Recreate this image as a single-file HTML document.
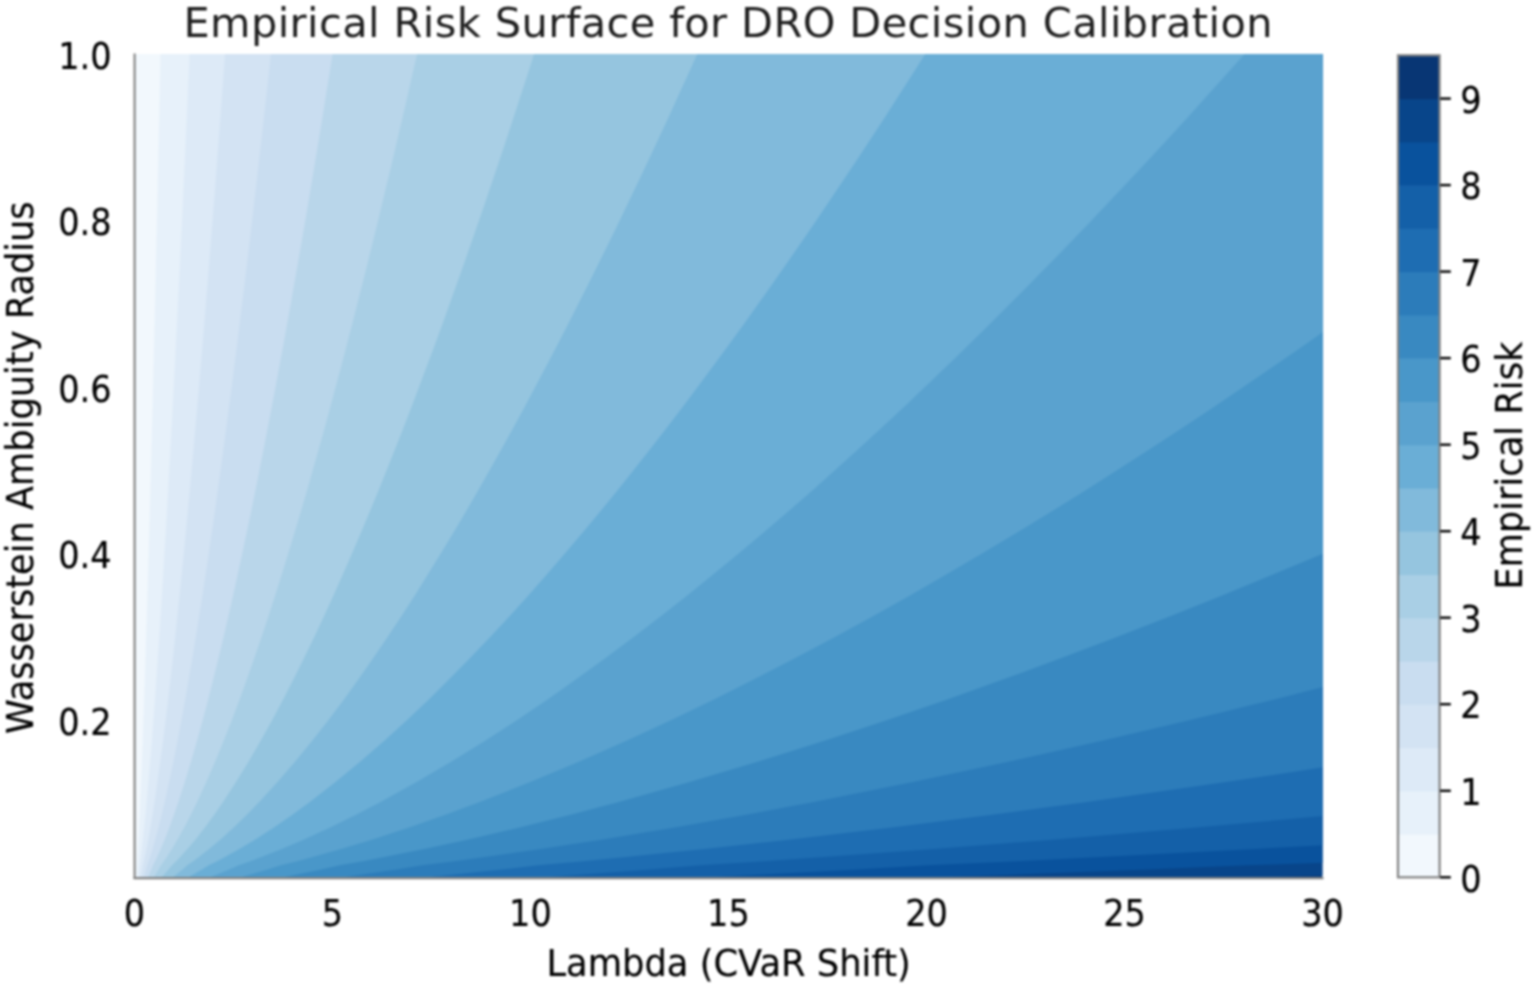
<!DOCTYPE html>
<html lang="en"><head><meta charset="utf-8"><title>Empirical Risk Surface for DRO Decision Calibration</title>
<style>
html,body{margin:0;padding:0;background:#fff;}
body{width:1534px;height:985px;overflow:hidden;}
svg{display:block;}
#fig{width:1534px;height:985px;filter:blur(1px);}
svg text{font-family:"DejaVu Sans","Liberation Sans",sans-serif;stroke:#000;stroke-width:0.15px;}
svg text.ttl{stroke:none;}
</style></head><body>
<div id="fig">
<svg width="1534" height="985" viewBox="0 0 1534 985">
<rect width="1534" height="985" fill="#ffffff"/>
<defs><clipPath id="pc"><rect x="134.4" y="54.0" width="1188.1" height="823.8"/></clipPath></defs>
<g clip-path="url(#pc)" shape-rendering="geometricPrecision">
<rect x="134.4" y="54.0" width="1188.1" height="823.8" fill="#083674"/>
<polygon points="129.4,882.8 1249.9,882.8 1249.9,877.8 1406.6,873.6 1554.3,869.5 1694.6,865.3 1718.5,861.2 1718.5,857.0 1718.5,852.8 1718.5,848.7 1718.5,844.5 1718.5,840.4 1718.5,836.2 1718.5,832.0 1718.5,827.9 1718.5,823.7 1718.5,819.6 1718.5,815.4 1718.5,811.2 1718.5,807.1 1718.5,802.9 1718.5,782.1 1718.5,761.3 1718.5,740.5 1718.5,719.7 1718.5,698.9 1718.5,678.1 1718.5,657.3 1718.5,636.5 1718.5,615.7 1718.5,594.9 1718.5,574.1 1718.5,553.3 1718.5,532.5 1718.5,511.7 1718.5,490.9 1718.5,470.1 1718.5,449.3 1718.5,428.5 1718.5,407.7 1718.5,386.8 1718.5,366.0 1718.5,345.2 1718.5,324.4 1718.5,303.6 1718.5,282.8 1718.5,262.0 1718.5,241.2 1718.5,220.4 1718.5,199.6 1718.5,178.8 1718.5,158.0 1718.5,137.2 1718.5,116.4 1718.5,95.6 1718.5,74.8 1718.5,54.0 1718.5,49.0 129.4,49.0" fill="#08458a"/>
<polygon points="129.4,882.8 930.0,882.8 930.0,877.8 1041.8,873.6 1147.1,869.5 1247.2,865.3 1371.5,861.2 1489.8,857.0 1603.1,852.8 1712.3,848.7 1718.5,844.5 1718.5,840.4 1718.5,836.2 1718.5,832.0 1718.5,827.9 1718.5,823.7 1718.5,819.6 1718.5,815.4 1718.5,811.2 1718.5,807.1 1718.5,802.9 1718.5,782.1 1718.5,761.3 1718.5,740.5 1718.5,719.7 1718.5,698.9 1718.5,678.1 1718.5,657.3 1718.5,636.5 1718.5,615.7 1718.5,594.9 1718.5,574.1 1718.5,553.3 1718.5,532.5 1718.5,511.7 1718.5,490.9 1718.5,470.1 1718.5,449.3 1718.5,428.5 1718.5,407.7 1718.5,386.8 1718.5,366.0 1718.5,345.2 1718.5,324.4 1718.5,303.6 1718.5,282.8 1718.5,262.0 1718.5,241.2 1718.5,220.4 1718.5,199.6 1718.5,178.8 1718.5,158.0 1718.5,137.2 1718.5,116.4 1718.5,95.6 1718.5,74.8 1718.5,54.0 1718.5,49.0 129.4,49.0" fill="#09529d"/>
<polygon points="129.4,882.8 701.9,882.8 701.9,877.8 781.6,873.6 856.7,869.5 928.1,865.3 1016.7,861.2 1101.1,857.0 1182.0,852.8 1259.8,848.7 1335.1,844.5 1408.1,840.4 1479.0,836.2 1548.2,832.0 1615.7,827.9 1681.7,823.7 1718.5,819.6 1718.5,815.4 1718.5,811.2 1718.5,807.1 1718.5,802.9 1718.5,782.1 1718.5,761.3 1718.5,740.5 1718.5,719.7 1718.5,698.9 1718.5,678.1 1718.5,657.3 1718.5,636.5 1718.5,615.7 1718.5,594.9 1718.5,574.1 1718.5,553.3 1718.5,532.5 1718.5,511.7 1718.5,490.9 1718.5,470.1 1718.5,449.3 1718.5,428.5 1718.5,407.7 1718.5,386.8 1718.5,366.0 1718.5,345.2 1718.5,324.4 1718.5,303.6 1718.5,282.8 1718.5,262.0 1718.5,241.2 1718.5,220.4 1718.5,199.6 1718.5,178.8 1718.5,158.0 1718.5,137.2 1718.5,116.4 1718.5,95.6 1718.5,74.8 1718.5,54.0 1718.5,49.0 129.4,49.0" fill="#1460a8"/>
<polygon points="129.4,882.8 539.1,882.8 539.1,877.8 596.0,873.6 649.6,869.5 700.5,865.3 763.7,861.2 823.9,857.0 881.6,852.8 937.1,848.7 990.8,844.5 1042.8,840.4 1093.4,836.2 1142.8,832.0 1190.9,827.9 1238.0,823.7 1284.1,819.6 1329.3,815.4 1373.6,811.2 1417.2,807.1 1460.1,802.9 1664.9,782.1 1718.5,761.3 1718.5,740.5 1718.5,719.7 1718.5,698.9 1718.5,678.1 1718.5,657.3 1718.5,636.5 1718.5,615.7 1718.5,594.9 1718.5,574.1 1718.5,553.3 1718.5,532.5 1718.5,511.7 1718.5,490.9 1718.5,470.1 1718.5,449.3 1718.5,428.5 1718.5,407.7 1718.5,386.8 1718.5,366.0 1718.5,345.2 1718.5,324.4 1718.5,303.6 1718.5,282.8 1718.5,262.0 1718.5,241.2 1718.5,220.4 1718.5,199.6 1718.5,178.8 1718.5,158.0 1718.5,137.2 1718.5,116.4 1718.5,95.6 1718.5,74.8 1718.5,54.0 1718.5,49.0 129.4,49.0" fill="#1e6db2"/>
<polygon points="129.4,882.8 423.1,882.8 423.1,877.8 463.6,873.6 501.8,869.5 538.2,865.3 583.2,861.2 626.2,857.0 667.3,852.8 706.9,848.7 745.2,844.5 782.3,840.4 818.4,836.2 853.6,832.0 887.9,827.9 921.5,823.7 954.4,819.6 986.6,815.4 1018.3,811.2 1049.3,807.1 1079.9,802.9 1226.0,782.1 1363.0,761.3 1492.7,740.5 1616.5,719.7 1718.5,698.9 1718.5,678.1 1718.5,657.3 1718.5,636.5 1718.5,615.7 1718.5,594.9 1718.5,574.1 1718.5,553.3 1718.5,532.5 1718.5,511.7 1718.5,490.9 1718.5,470.1 1718.5,449.3 1718.5,428.5 1718.5,407.7 1718.5,386.8 1718.5,366.0 1718.5,345.2 1718.5,324.4 1718.5,303.6 1718.5,282.8 1718.5,262.0 1718.5,241.2 1718.5,220.4 1718.5,199.6 1718.5,178.8 1718.5,158.0 1718.5,137.2 1718.5,116.4 1718.5,95.6 1718.5,74.8 1718.5,54.0 1718.5,49.0 129.4,49.0" fill="#2c7cba"/>
<polygon points="129.4,882.8 340.3,882.8 340.3,877.8 369.2,873.6 396.5,869.5 422.4,865.3 454.5,861.2 485.1,857.0 514.5,852.8 542.7,848.7 570.0,844.5 596.5,840.4 622.2,836.2 647.3,832.0 671.8,827.9 695.8,823.7 719.2,819.6 742.2,815.4 764.8,811.2 786.9,807.1 808.7,802.9 912.9,782.1 1010.6,761.3 1103.1,740.5 1191.4,719.7 1276.2,698.9 1358.0,678.1 1437.1,657.3 1513.9,636.5 1588.6,615.7 1661.5,594.9 1718.5,574.1 1718.5,553.3 1718.5,532.5 1718.5,511.7 1718.5,490.9 1718.5,470.1 1718.5,449.3 1718.5,428.5 1718.5,407.7 1718.5,386.8 1718.5,366.0 1718.5,345.2 1718.5,324.4 1718.5,303.6 1718.5,282.8 1718.5,262.0 1718.5,241.2 1718.5,220.4 1718.5,199.6 1718.5,178.8 1718.5,158.0 1718.5,137.2 1718.5,116.4 1718.5,95.6 1718.5,74.8 1718.5,54.0 1718.5,49.0 129.4,49.0" fill="#3989c1"/>
<polygon points="129.4,882.8 281.2,882.8 281.2,877.8 301.9,873.6 321.3,869.5 339.8,865.3 362.7,861.2 384.5,857.0 405.4,852.8 425.6,848.7 445.1,844.5 463.9,840.4 482.3,836.2 500.2,832.0 517.7,827.9 534.7,823.7 551.5,819.6 567.9,815.4 583.9,811.2 599.8,807.1 615.3,802.9 689.6,782.1 759.3,761.3 825.2,740.5 888.2,719.7 948.7,698.9 1007.0,678.1 1063.4,657.3 1118.2,636.5 1171.5,615.7 1223.4,594.9 1274.2,574.1 1323.8,553.3 1372.5,532.5 1420.2,511.7 1467.0,490.9 1513.1,470.1 1558.3,449.3 1602.9,428.5 1646.8,407.7 1690.1,386.8 1718.5,366.0 1718.5,345.2 1718.5,324.4 1718.5,303.6 1718.5,282.8 1718.5,262.0 1718.5,241.2 1718.5,220.4 1718.5,199.6 1718.5,178.8 1718.5,158.0 1718.5,137.2 1718.5,116.4 1718.5,95.6 1718.5,74.8 1718.5,54.0 1718.5,49.0 129.4,49.0" fill="#4997c9"/>
<polygon points="129.4,882.8 239.1,882.8 239.1,877.8 253.8,873.6 267.7,869.5 280.8,865.3 297.2,861.2 312.7,857.0 327.7,852.8 342.0,848.7 355.9,844.5 369.4,840.4 382.5,836.2 395.2,832.0 407.7,827.9 419.9,823.7 431.8,819.6 443.5,815.4 454.9,811.2 466.2,807.1 477.3,802.9 530.3,782.1 580.0,761.3 627.0,740.5 671.9,719.7 715.0,698.9 756.6,678.1 796.8,657.3 835.9,636.5 873.9,615.7 910.9,594.9 947.1,574.1 982.5,553.3 1017.2,532.5 1051.2,511.7 1084.6,490.9 1117.4,470.1 1149.7,449.3 1181.5,428.5 1212.8,407.7 1243.7,386.8 1274.1,366.0 1304.2,345.2 1333.9,324.4 1363.2,303.6 1392.1,282.8 1420.8,262.0 1449.1,241.2 1477.1,220.4 1504.8,199.6 1532.3,178.8 1559.5,158.0 1586.4,137.2 1613.1,116.4 1639.5,95.6 1665.8,74.8 1691.8,54.0 1691.8,49.0 129.4,49.0" fill="#5aa2cf"/>
<polygon points="129.4,882.8 209.0,882.8 209.0,877.8 219.5,873.6 229.4,869.5 238.8,865.3 250.4,861.2 261.5,857.0 272.2,852.8 282.4,848.7 292.3,844.5 301.9,840.4 311.2,836.2 320.3,832.0 329.2,827.9 337.9,823.7 346.4,819.6 354.7,815.4 362.9,811.2 370.9,807.1 378.8,802.9 416.6,782.1 452.0,761.3 485.6,740.5 517.6,719.7 548.3,698.9 577.9,678.1 606.6,657.3 634.4,636.5 661.5,615.7 687.9,594.9 713.7,574.1 739.0,553.3 763.7,532.5 787.9,511.7 811.8,490.9 835.2,470.1 858.2,449.3 880.8,428.5 903.2,407.7 925.2,386.8 946.9,366.0 968.3,345.2 989.4,324.4 1010.3,303.6 1031.0,282.8 1051.4,262.0 1071.6,241.2 1091.5,220.4 1111.3,199.6 1130.9,178.8 1150.3,158.0 1169.5,137.2 1188.5,116.4 1207.3,95.6 1226.0,74.8 1244.6,54.0 1244.6,49.0 129.4,49.0" fill="#6aaed6"/>
<polygon points="129.4,882.8 187.6,882.8 187.6,877.8 195.0,873.6 202.1,869.5 208.8,865.3 217.1,861.2 225.0,857.0 232.6,852.8 239.8,848.7 246.9,844.5 253.7,840.4 260.4,836.2 266.9,832.0 273.2,827.9 279.4,823.7 285.4,819.6 291.4,815.4 297.2,811.2 302.9,807.1 308.6,802.9 335.5,782.1 360.7,761.3 384.6,740.5 407.4,719.7 429.3,698.9 450.4,678.1 470.8,657.3 490.7,636.5 510.0,615.7 528.8,594.9 547.2,574.1 565.1,553.3 582.7,532.5 600.0,511.7 617.0,490.9 633.7,470.1 650.1,449.3 666.2,428.5 682.1,407.7 697.8,386.8 713.2,366.0 728.5,345.2 743.6,324.4 758.5,303.6 773.2,282.8 787.7,262.0 802.1,241.2 816.3,220.4 830.4,199.6 844.3,178.8 858.2,158.0 871.8,137.2 885.4,116.4 898.8,95.6 912.1,74.8 925.3,54.0 925.3,49.0 129.4,49.0" fill="#81badb"/>
<polygon points="129.4,882.8 172.2,882.8 172.2,877.8 177.6,873.6 182.6,869.5 187.3,865.3 193.2,861.2 198.9,857.0 204.3,852.8 209.4,848.7 214.5,844.5 219.3,840.4 224.1,836.2 228.7,832.0 233.2,827.9 237.6,823.7 241.9,819.6 246.1,815.4 250.3,811.2 254.3,807.1 258.3,802.9 277.5,782.1 295.4,761.3 312.4,740.5 328.7,719.7 344.3,698.9 359.3,678.1 373.8,657.3 387.9,636.5 401.7,615.7 415.1,594.9 428.1,574.1 440.9,553.3 453.5,532.5 465.8,511.7 477.8,490.9 489.7,470.1 501.4,449.3 512.9,428.5 524.2,407.7 535.3,386.8 546.3,366.0 557.2,345.2 567.9,324.4 578.5,303.6 589.0,282.8 599.3,262.0 609.6,241.2 619.7,220.4 629.7,199.6 639.7,178.8 649.5,158.0 659.2,137.2 668.9,116.4 678.4,95.6 687.9,74.8 697.3,54.0 697.3,49.0 129.4,49.0" fill="#95c5df"/>
<polygon points="129.4,882.8 161.3,882.8 161.3,877.8 165.0,873.6 168.6,869.5 172.0,865.3 176.2,861.2 180.2,857.0 184.0,852.8 187.7,848.7 191.3,844.5 194.7,840.4 198.1,836.2 201.3,832.0 204.5,827.9 207.7,823.7 210.7,819.6 213.7,815.4 216.7,811.2 219.6,807.1 222.4,802.9 236.0,782.1 248.8,761.3 260.8,740.5 272.4,719.7 283.4,698.9 294.1,678.1 304.4,657.3 314.5,636.5 324.2,615.7 333.7,594.9 343.0,574.1 352.1,553.3 361.0,532.5 369.7,511.7 378.3,490.9 386.7,470.1 395.0,449.3 403.2,428.5 411.2,407.7 419.1,386.8 426.9,366.0 434.7,345.2 442.3,324.4 449.8,303.6 457.2,282.8 464.6,262.0 471.8,241.2 479.0,220.4 486.2,199.6 493.2,178.8 500.2,158.0 507.1,137.2 513.9,116.4 520.7,95.6 527.5,74.8 534.1,54.0 534.1,49.0 129.4,49.0" fill="#a9cfe5"/>
<polygon points="129.4,882.8 153.4,882.8 153.4,877.8 156.1,873.6 158.6,869.5 161.0,865.3 163.9,861.2 166.8,857.0 169.5,852.8 172.1,848.7 174.6,844.5 177.0,840.4 179.4,836.2 181.7,832.0 184.0,827.9 186.2,823.7 188.4,819.6 190.5,815.4 192.6,811.2 194.6,807.1 196.6,802.9 206.3,782.1 215.3,761.3 223.8,740.5 232.0,719.7 239.8,698.9 247.3,678.1 254.6,657.3 261.7,636.5 268.6,615.7 275.3,594.9 281.9,574.1 288.3,553.3 294.6,532.5 300.8,511.7 306.9,490.9 312.8,470.1 318.7,449.3 324.5,428.5 330.1,407.7 335.7,386.8 341.3,366.0 346.7,345.2 352.1,324.4 357.4,303.6 362.7,282.8 367.9,262.0 373.0,241.2 378.1,220.4 383.1,199.6 388.1,178.8 393.1,158.0 397.9,137.2 402.8,116.4 407.6,95.6 412.3,74.8 417.1,54.0 417.1,49.0 129.4,49.0" fill="#b9d6ea"/>
<polygon points="129.4,882.8 147.7,882.8 147.7,877.8 149.6,873.6 151.4,869.5 153.0,865.3 155.1,861.2 157.1,857.0 159.0,852.8 160.8,848.7 162.6,844.5 164.3,840.4 166.0,836.2 167.6,832.0 169.2,827.9 170.7,823.7 172.2,819.6 173.7,815.4 175.2,811.2 176.6,807.1 178.0,802.9 184.8,782.1 191.1,761.3 197.1,740.5 202.8,719.7 208.3,698.9 213.6,678.1 218.7,657.3 223.7,636.5 228.5,615.7 233.2,594.9 237.8,574.1 242.3,553.3 246.7,532.5 251.1,511.7 255.3,490.9 259.5,470.1 263.6,449.3 267.6,428.5 271.6,407.7 275.6,386.8 279.4,366.0 283.3,345.2 287.0,324.4 290.8,303.6 294.4,282.8 298.1,262.0 301.7,241.2 305.3,220.4 308.8,199.6 312.3,178.8 315.7,158.0 319.2,137.2 322.6,116.4 325.9,95.6 329.3,74.8 332.6,54.0 332.6,49.0 129.4,49.0" fill="#c9ddf0"/>
<polygon points="129.4,882.8 143.6,882.8 143.6,877.8 144.9,873.6 146.1,869.5 147.2,865.3 148.7,861.2 150.0,857.0 151.3,852.8 152.6,848.7 153.8,844.5 155.0,840.4 156.1,836.2 157.3,832.0 158.4,827.9 159.4,823.7 160.5,819.6 161.5,815.4 162.5,811.2 163.5,807.1 164.5,802.9 169.1,782.1 173.5,761.3 177.6,740.5 181.5,719.7 185.3,698.9 188.9,678.1 192.5,657.3 195.9,636.5 199.2,615.7 202.5,594.9 205.7,574.1 208.8,553.3 211.8,532.5 214.8,511.7 217.7,490.9 220.6,470.1 223.4,449.3 226.2,428.5 228.9,407.7 231.7,386.8 234.3,366.0 237.0,345.2 239.6,324.4 242.1,303.6 244.7,282.8 247.2,262.0 249.7,241.2 252.1,220.4 254.5,199.6 257.0,178.8 259.3,158.0 261.7,137.2 264.0,116.4 266.4,95.6 268.7,74.8 270.9,54.0 270.9,49.0 129.4,49.0" fill="#d3e3f3"/>
<polygon points="129.4,882.8 140.5,882.8 140.5,877.8 141.3,873.6 142.2,869.5 142.9,865.3 143.9,861.2 144.8,857.0 145.6,852.8 146.5,848.7 147.3,844.5 148.1,840.4 148.8,836.2 149.6,832.0 150.3,827.9 151.0,823.7 151.7,819.6 152.4,815.4 153.1,811.2 153.7,807.1 154.4,802.9 157.4,782.1 160.3,761.3 163.1,740.5 165.7,719.7 168.2,698.9 170.6,678.1 173.0,657.3 175.2,636.5 177.4,615.7 179.6,594.9 181.7,574.1 183.8,553.3 185.8,532.5 187.8,511.7 189.7,490.9 191.6,470.1 193.5,449.3 195.3,428.5 197.2,407.7 199.0,386.8 200.7,366.0 202.5,345.2 204.2,324.4 205.9,303.6 207.6,282.8 209.3,262.0 210.9,241.2 212.5,220.4 214.2,199.6 215.8,178.8 217.3,158.0 218.9,137.2 220.5,116.4 222.0,95.6 223.5,74.8 225.0,54.0 225.0,49.0 129.4,49.0" fill="#ddeaf7"/>
<polygon points="129.4,882.8 138.1,882.8 138.1,877.8 138.6,873.6 139.1,869.5 139.6,865.3 140.2,861.2 140.7,857.0 141.2,852.8 141.8,848.7 142.2,844.5 142.7,840.4 143.2,836.2 143.6,832.0 144.1,827.9 144.5,823.7 144.9,819.6 145.4,815.4 145.8,811.2 146.2,807.1 146.5,802.9 148.4,782.1 150.2,761.3 151.9,740.5 153.4,719.7 155.0,698.9 156.4,678.1 157.9,657.3 159.3,636.5 160.6,615.7 161.9,594.9 163.2,574.1 164.4,553.3 165.7,532.5 166.9,511.7 168.1,490.9 169.2,470.1 170.4,449.3 171.5,428.5 172.6,407.7 173.7,386.8 174.8,366.0 175.8,345.2 176.9,324.4 177.9,303.6 179.0,282.8 180.0,262.0 181.0,241.2 182.0,220.4 183.0,199.6 183.9,178.8 184.9,158.0 185.8,137.2 186.8,116.4 187.7,95.6 188.7,74.8 189.6,54.0 189.6,49.0 129.4,49.0" fill="#e7f1fa"/>
<polygon points="129.4,882.8 136.2,882.8 136.2,877.8 136.4,873.6 136.6,869.5 136.9,865.3 137.1,861.2 137.4,857.0 137.6,852.8 137.9,848.7 138.1,844.5 138.3,840.4 138.6,836.2 138.8,832.0 139.0,827.9 139.2,823.7 139.4,819.6 139.6,815.4 139.8,811.2 140.0,807.1 140.1,802.9 141.0,782.1 141.9,761.3 142.7,740.5 143.4,719.7 144.1,698.9 144.8,678.1 145.5,657.3 146.1,636.5 146.8,615.7 147.4,594.9 148.0,574.1 148.6,553.3 149.2,532.5 149.8,511.7 150.3,490.9 150.9,470.1 151.4,449.3 151.9,428.5 152.5,407.7 153.0,386.8 153.5,366.0 154.0,345.2 154.5,324.4 155.0,303.6 155.5,282.8 155.9,262.0 156.4,241.2 156.9,220.4 157.4,199.6 157.8,178.8 158.3,158.0 158.7,137.2 159.2,116.4 159.6,95.6 160.1,74.8 160.5,54.0 160.5,49.0 129.4,49.0" fill="#f2f8fd"/>
</g>
<path d="M134.6,53.5 V879.0999999999999" stroke="#828282" stroke-width="2.1" fill="none"/>
<path d="M133.5,878.0999999999999 H1323.5" stroke="#828282" stroke-width="2.1" fill="none"/>
<rect x="1398.0" y="834.04" width="41.6" height="43.86" fill="#f2f8fd"/>
<rect x="1398.0" y="790.77" width="41.6" height="43.86" fill="#e7f1fa"/>
<rect x="1398.0" y="747.51" width="41.6" height="43.86" fill="#ddeaf7"/>
<rect x="1398.0" y="704.25" width="41.6" height="43.86" fill="#d3e3f3"/>
<rect x="1398.0" y="660.98" width="41.6" height="43.86" fill="#c9ddf0"/>
<rect x="1398.0" y="617.72" width="41.6" height="43.86" fill="#b9d6ea"/>
<rect x="1398.0" y="574.46" width="41.6" height="43.86" fill="#a9cfe5"/>
<rect x="1398.0" y="531.19" width="41.6" height="43.86" fill="#95c5df"/>
<rect x="1398.0" y="487.93" width="41.6" height="43.86" fill="#81badb"/>
<rect x="1398.0" y="444.67" width="41.6" height="43.86" fill="#6aaed6"/>
<rect x="1398.0" y="401.41" width="41.6" height="43.86" fill="#5aa2cf"/>
<rect x="1398.0" y="358.14" width="41.6" height="43.86" fill="#4997c9"/>
<rect x="1398.0" y="314.88" width="41.6" height="43.86" fill="#3989c1"/>
<rect x="1398.0" y="271.62" width="41.6" height="43.86" fill="#2c7cba"/>
<rect x="1398.0" y="228.35" width="41.6" height="43.86" fill="#1e6db2"/>
<rect x="1398.0" y="185.09" width="41.6" height="43.86" fill="#1460a8"/>
<rect x="1398.0" y="141.83" width="41.6" height="43.86" fill="#09529d"/>
<rect x="1398.0" y="98.56" width="41.6" height="43.86" fill="#08458a"/>
<rect x="1398.0" y="55.30" width="41.6" height="43.86" fill="#083674"/>
<rect x="1398.0" y="55.3" width="41.6" height="822.0" fill="none" stroke="#828282" stroke-width="2.2"/>
<path d="M1440.2,877.3 h10.6" stroke="#000000" stroke-width="2.4"/>
<text transform="translate(1460.2,891.5) scale(0.97,1.085)" font-size="34.6" fill="#000000">0</text>
<path d="M1440.2,790.8 h10.6" stroke="#000000" stroke-width="2.4"/>
<text transform="translate(1460.2,805.0) scale(0.97,1.085)" font-size="34.6" fill="#000000">1</text>
<path d="M1440.2,704.2 h10.6" stroke="#000000" stroke-width="2.4"/>
<text transform="translate(1460.2,718.4) scale(0.97,1.085)" font-size="34.6" fill="#000000">2</text>
<path d="M1440.2,617.7 h10.6" stroke="#000000" stroke-width="2.4"/>
<text transform="translate(1460.2,631.9) scale(0.97,1.085)" font-size="34.6" fill="#000000">3</text>
<path d="M1440.2,531.2 h10.6" stroke="#000000" stroke-width="2.4"/>
<text transform="translate(1460.2,545.4) scale(0.97,1.085)" font-size="34.6" fill="#000000">4</text>
<path d="M1440.2,444.7 h10.6" stroke="#000000" stroke-width="2.4"/>
<text transform="translate(1460.2,458.9) scale(0.97,1.085)" font-size="34.6" fill="#000000">5</text>
<path d="M1440.2,358.1 h10.6" stroke="#000000" stroke-width="2.4"/>
<text transform="translate(1460.2,372.3) scale(0.97,1.085)" font-size="34.6" fill="#000000">6</text>
<path d="M1440.2,271.6 h10.6" stroke="#000000" stroke-width="2.4"/>
<text transform="translate(1460.2,285.8) scale(0.97,1.085)" font-size="34.6" fill="#000000">7</text>
<path d="M1440.2,185.1 h10.6" stroke="#000000" stroke-width="2.4"/>
<text transform="translate(1460.2,199.3) scale(0.97,1.085)" font-size="34.6" fill="#000000">8</text>
<path d="M1440.2,98.6 h10.6" stroke="#000000" stroke-width="2.4"/>
<text transform="translate(1460.2,112.8) scale(0.97,1.085)" font-size="34.6" fill="#000000">9</text>
<text transform="translate(134.4,925.6) scale(0.97,1.085)" font-size="34.6" fill="#000000" text-anchor="middle">0</text>
<text transform="translate(332.4,925.6) scale(0.97,1.085)" font-size="34.6" fill="#000000" text-anchor="middle">5</text>
<text transform="translate(530.4,925.6) scale(0.97,1.085)" font-size="34.6" fill="#000000" text-anchor="middle">10</text>
<text transform="translate(728.4,925.6) scale(0.97,1.085)" font-size="34.6" fill="#000000" text-anchor="middle">15</text>
<text transform="translate(926.5,925.6) scale(0.97,1.085)" font-size="34.6" fill="#000000" text-anchor="middle">20</text>
<text transform="translate(1124.5,925.6) scale(0.97,1.085)" font-size="34.6" fill="#000000" text-anchor="middle">25</text>
<text transform="translate(1322.5,925.6) scale(0.97,1.085)" font-size="34.6" fill="#000000" text-anchor="middle">30</text>
<text transform="translate(111.6,734.7) scale(0.97,1.085)" font-size="34.6" fill="#000000" text-anchor="end">0.2</text>
<text transform="translate(111.6,568.3) scale(0.97,1.085)" font-size="34.6" fill="#000000" text-anchor="end">0.4</text>
<text transform="translate(111.6,401.8) scale(0.97,1.085)" font-size="34.6" fill="#000000" text-anchor="end">0.6</text>
<text transform="translate(111.6,235.4) scale(0.97,1.085)" font-size="34.6" fill="#000000" text-anchor="end">0.8</text>
<text transform="translate(111.6,69.0) scale(0.97,1.085)" font-size="34.6" fill="#000000" text-anchor="end">1.0</text>
<text transform="translate(728.6,975.7) scale(1,1.035)" font-size="35.3" fill="#000000" text-anchor="middle">Lambda (CVaR Shift)</text>
<text transform="translate(33.4,467.6) rotate(-90) scale(1,1.075)" font-size="35.2" fill="#000000" text-anchor="middle">Wasserstein Ambiguity Radius</text>
<text transform="translate(1521.7,465.7) rotate(-90) scale(1,1.035)" font-size="35.3" fill="#000000" text-anchor="middle">Empirical Risk</text>
<text x="728.0" y="37.0" font-size="41.5" fill="#1e1e1e" class="ttl" text-anchor="middle" textLength="1089" lengthAdjust="spacing">Empirical Risk Surface for DRO Decision Calibration</text>
</svg>
</div>
</body></html>
